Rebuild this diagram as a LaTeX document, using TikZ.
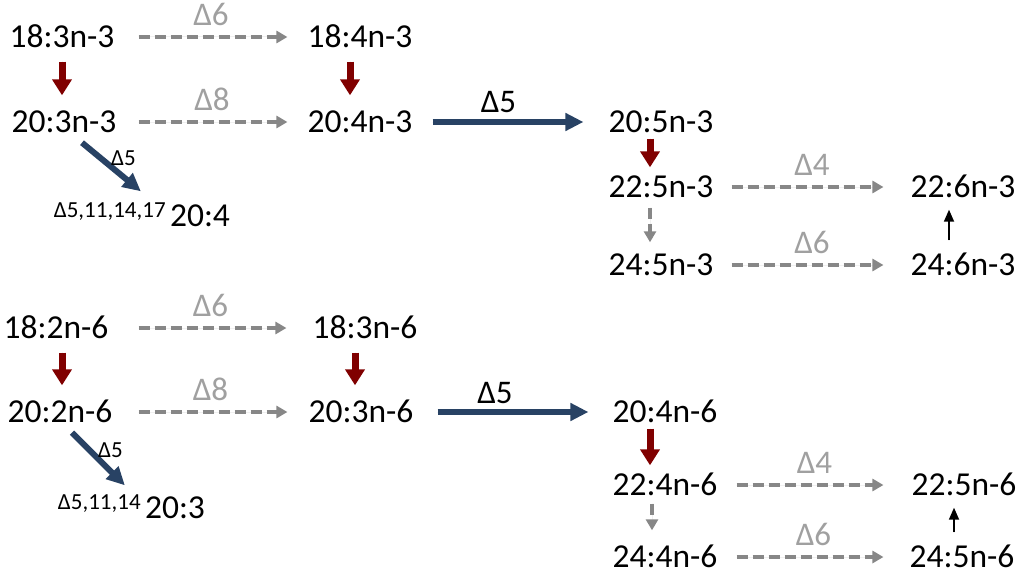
\documentclass[tikz,border=0pt]{standalone}
\usepackage{fontspec}
\setmainfont{Carlito}
\usetikzlibrary{arrows.meta,calc}
\definecolor{darkred}{RGB}{128,0,0}
\definecolor{navy}{RGB}{40,66,100}
\definecolor{dgray}{RGB}{135,135,135}
\definecolor{lgray}{RGB}{160,160,160}
\begin{document}
\begin{tikzpicture}[x=1pt,y=-1pt,
  lab/.style={inner sep=0pt, font=\fontsize{33.5}{36}\selectfont, text height=21pt, text depth=0pt},
  glab/.style={inner sep=0pt, font=\fontsize{33}{36}\selectfont, text=lgray, text height=20pt, text depth=0pt},
  blab/.style={inner sep=0pt, font=\fontsize{33}{36}\selectfont, text height=20pt, text depth=0pt},
  slab/.style={inner sep=0pt, font=\fontsize{23}{26}\selectfont, text height=14pt, text depth=0pt},
  redarr/.style={draw=darkred, line width=7pt, -{Triangle[length=16pt,width=19pt]}, fill=darkred},
  grayarr/.style={draw=dgray, line width=4.5pt, dash pattern=on 11pt off 5pt, -{Triangle[length=11pt,width=12pt]}, fill=dgray},
  bluearr/.style={draw=navy, line width=6pt, -{Triangle[length=18pt,width=17pt]}, fill=navy},
  blkarr/.style={draw=black, line width=1.8pt, -{Triangle[length=12pt,width=10pt]}, fill=black},
]
\useasboundingbox (0,0) rectangle (1024,575);
% ---------- top block ----------
\node[lab] (A1) at (62,37) {18:3n-3};
\node[lab] (A2) at (360,37) {18:4n-3};
\node[lab] (A3) at (64,122) {20:3n-3};
\node[lab] (A4) at (360,122) {20:4n-3};
\node[lab] (A5) at (661,122) {20:5n-3};
\node[lab] (A6) at (661,187) {22:5n-3};
\node[lab] (A7) at (661,265) {24:5n-3};
\node[lab] (A8) at (963,187) {22:6n-3};
\node[lab] (A9) at (963,265) {24:6n-3};
\node[lab] (A10) at (200,216) {20:4};
\node[slab, anchor=base east] (S1) at ([xshift=-4pt,yshift=9pt]A10.base west) {Δ5,11,14,17};

\draw[grayarr, shorten <=24pt, shorten >=20pt] (A1.east) -- (A2.west)
  node[glab, midway, above=9pt] (L1) {Δ6};
\draw[grayarr, shorten <=22pt, shorten >=20pt] (A3.east) -- (A4.west)
  node[glab, midway, above=9pt] (L2) {Δ8};
\draw[redarr, shorten <=14pt, shorten >=16pt] (A1.south) -- (A1.south |- A3.north);
\draw[redarr, shorten <=14pt, shorten >=16pt] ([xshift=-10pt]A2.south) -- ([xshift=-10pt]A2.south |- A4.north);
\draw[bluearr, shorten <=20pt, shorten >=25pt] (A4.east) -- (A5.west)
  node[blab, midway, above=6pt, xshift=-12pt] (L3) {Δ5};
\draw[redarr, shorten <=6pt, shorten >=9pt] ([xshift=-11pt]A5.south) -- ([xshift=-11pt]A5.south |- A6.north);
\draw[grayarr, shorten <=10pt, shorten >=12pt] ([xshift=-11pt]A6.south) -- ([xshift=-11pt]A6.south |- A7.north);
\draw[grayarr, shorten <=18pt, shorten >=27pt] (A6.east) -- (A8.west)
  node[glab, midway, above=9pt] (L4) {Δ4};
\draw[grayarr, shorten <=18pt, shorten >=27pt] (A7.east) -- (A9.west)
  node[glab, midway, above=9pt] (L5) {Δ6};
\draw[blkarr, shorten <=14pt, shorten >=12pt] ([xshift=-14pt]A9.north) -- ([xshift=-14pt]A9.north |- A8.south);
\draw[bluearr] ($(A3.south)+(18,10)$) -- ($(A10.north west)+(-29,-14)$)
  node[slab, midway, xshift=12pt, yshift=9pt] (L6) {Δ5};

% ---------- bottom block ----------
\node[lab] (B1) at (56,328) {18:2n-6};
\node[lab] (B2) at (365,328) {18:3n-6};
\node[lab] (B3) at (60,412) {20:2n-6};
\node[lab] (B4) at (361,412) {20:3n-6};
\node[lab] (B5) at (665,412) {20:4n-6};
\node[lab] (B6) at (665,485) {22:4n-6};
\node[lab] (B7) at (665,557) {24:4n-6};
\node[lab] (B8) at (964,485) {22:5n-6};
\node[lab] (B9) at (962,557) {24:5n-6};
\node[lab] (B10) at (175,508) {20:3};
\node[slab, anchor=base east] (S2) at ([xshift=-4pt,yshift=9pt]B10.base west) {Δ5,11,14};

\draw[grayarr, shorten <=30pt, shorten >=26pt] (B1.east) -- (B2.west)
  node[glab, midway, above=9pt] (M1) {Δ6};
\draw[grayarr, shorten <=26pt, shorten >=21pt] (B3.east) -- (B4.west)
  node[glab, midway, above=9pt] (M2) {Δ8};
\draw[redarr, shorten <=14pt, shorten >=16pt] ([xshift=6pt]B1.south) -- ([xshift=6pt]B1.south |- B3.north);
\draw[redarr, shorten <=14pt, shorten >=16pt] ([xshift=-10pt]B2.south) -- ([xshift=-10pt]B2.south |- B4.north);
\draw[bluearr, shorten <=24pt, shorten >=24pt] (B4.east) -- (B5.west)
  node[blab, midway, above=6pt, xshift=-18pt] (M3) {Δ5};
\draw[redarr, shorten <=6pt, shorten >=9pt] ([xshift=-15pt]B5.south) -- ([xshift=-15pt]B5.south |- B6.north);
\draw[grayarr, shorten <=8pt, shorten >=16pt] ([xshift=-13pt]B6.south) -- ([xshift=-13pt]B6.south |- B7.north);
\draw[grayarr, shorten <=19pt, shorten >=28pt] (B6.east) -- (B8.west)
  node[glab, midway, above=9pt] (M4) {Δ4};
\draw[grayarr, shorten <=19pt, shorten >=26pt] (B7.east) -- (B9.west)
  node[glab, midway, above=9pt] (M5) {Δ6};
\draw[blkarr, shorten <=14pt, shorten >=12pt] ([xshift=-8pt]B9.north) -- ([xshift=-8pt]B9.north |- B8.south);
\draw[bluearr] ($(B3.south)+(12,10)$) -- ($(B10.north west)+(-20,-12)$)
  node[slab, midway, xshift=12pt, yshift=9pt] (M6) {Δ5};
\end{tikzpicture}
\end{document}
